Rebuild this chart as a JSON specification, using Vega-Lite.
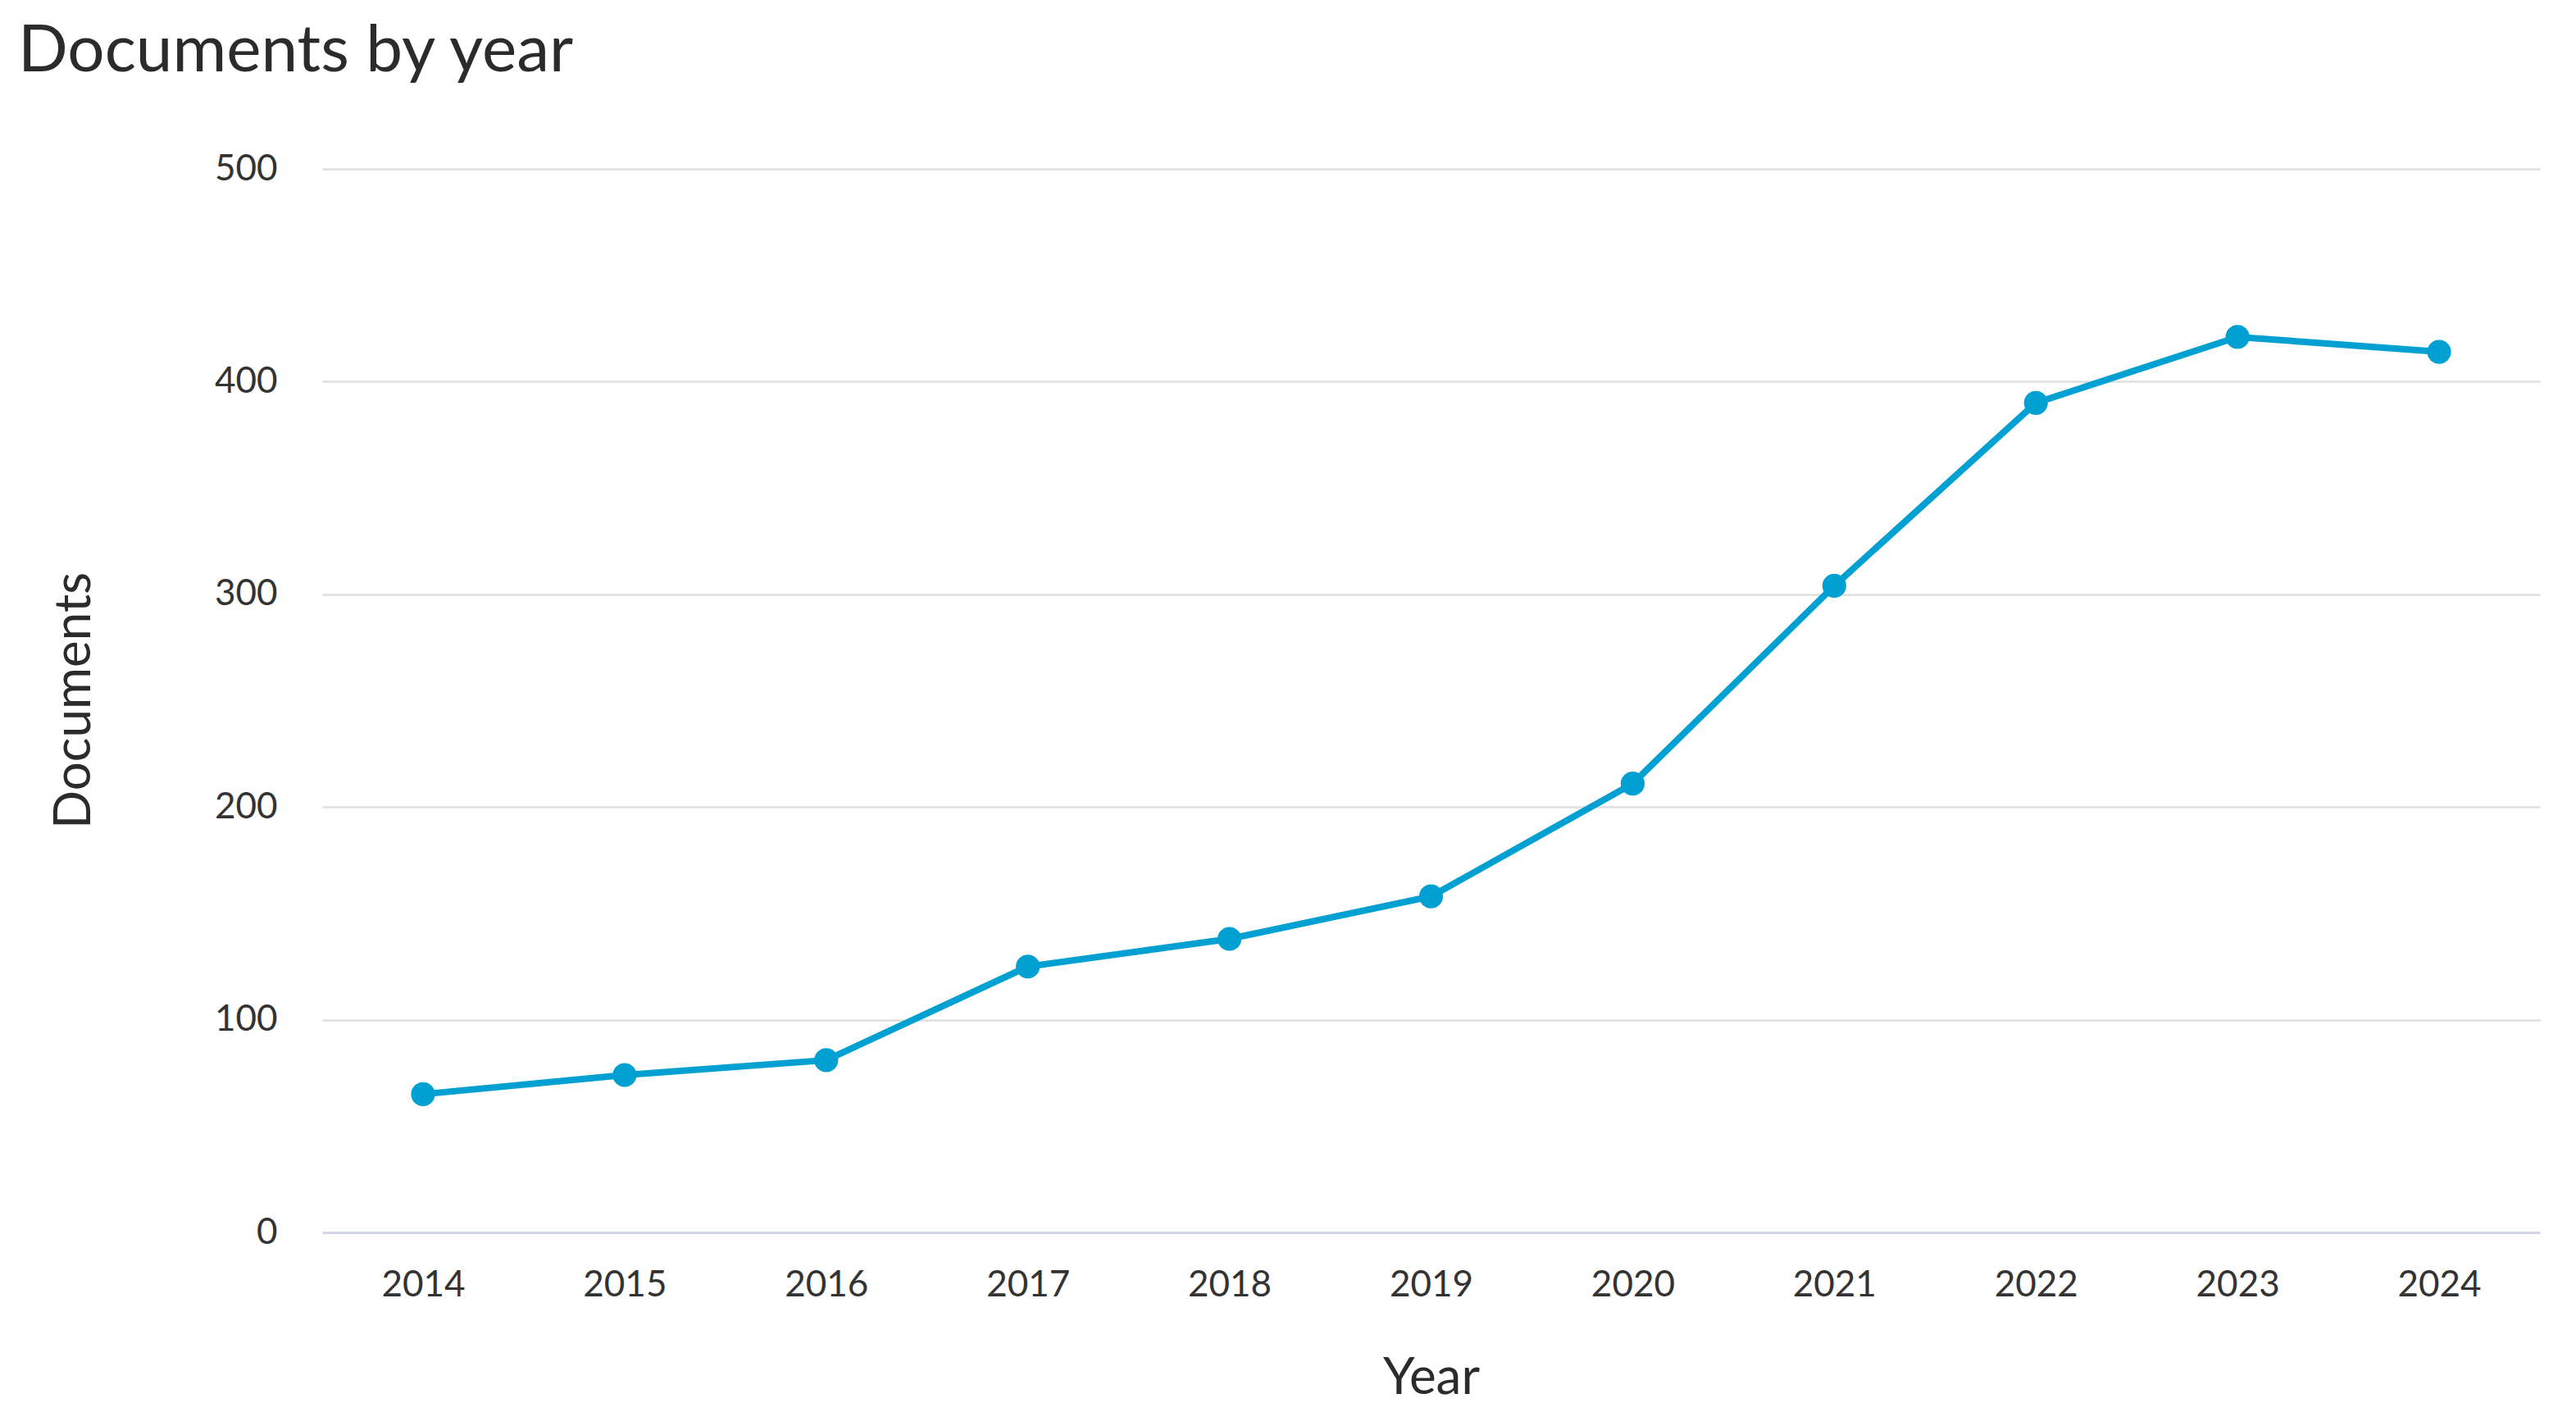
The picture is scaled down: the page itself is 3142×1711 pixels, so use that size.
{
  "$schema": "https://vega.github.io/schema/vega-lite/v6.json",
  "width": 2705,
  "height": 1297,
  "autosize": {"type": "none"},
  "padding": {"left": 393, "top": 206, "right": 44, "bottom": 208},
  "background": "#ffffff",
  "title": {
    "text": "Documents by year",
    "anchor": "start",
    "frame": "group",
    "font": "Lato",
    "fontSize": 80,
    "fontWeight": "normal",
    "color": "#2b2b2b",
    "dx": -371,
    "offset": 80
  },
  "config": {
    "view": {"stroke": null},
    "font": "Lato"
  },
  "data": {
    "values": [
      {"Year": "2014", "Documents": 65},
      {"Year": "2015", "Documents": 74},
      {"Year": "2016", "Documents": 81},
      {"Year": "2017", "Documents": 125},
      {"Year": "2018", "Documents": 138},
      {"Year": "2019", "Documents": 158},
      {"Year": "2020", "Documents": 211},
      {"Year": "2021", "Documents": 304},
      {"Year": "2022", "Documents": 390},
      {"Year": "2023", "Documents": 421},
      {"Year": "2024", "Documents": 414}
    ]
  },
  "encoding": {
    "x": {
      "field": "Year",
      "type": "ordinal",
      "scale": {"type": "point", "padding": 0.5},
      "axis": {
        "title": "Year",
        "titleFont": "Lato",
        "titleFontSize": 62,
        "titleFontWeight": "normal",
        "titleColor": "#2b2b2b",
        "titleBaseline": "alphabetic",
        "titleY": 196,
        "labelFont": "Lato",
        "labelFontSize": 44,
        "labelColor": "#333333",
        "labelAngle": 0,
        "labelPadding": 42,
        "ticks": false,
        "tickSize": 0,
        "grid": false,
        "domain": true,
        "domainColor": "#d3d7ea",
        "domainWidth": 3
      }
    },
    "y": {
      "field": "Documents",
      "type": "quantitative",
      "scale": {"domain": [0, 500], "nice": false},
      "axis": {
        "title": "Documents",
        "titleFont": "Lato",
        "titleFontSize": 62,
        "titleFontWeight": "normal",
        "titleColor": "#2b2b2b",
        "titleAngle": -90,
        "titleBaseline": "middle",
        "titleX": -303,
        "titleY": 648,
        "values": [0, 100, 200, 300, 400, 500],
        "labelFont": "Lato",
        "labelFontSize": 44,
        "labelColor": "#333333",
        "labelPadding": 55,
        "ticks": false,
        "tickSize": 0,
        "domain": false,
        "grid": true,
        "gridColor": "#dedede",
        "gridWidth": 2.5
      }
    }
  },
  "layer": [
    {
      "mark": {"type": "line", "color": "#00a0d2", "strokeWidth": 8}
    },
    {
      "mark": {"type": "point", "filled": true, "color": "#00a0d2", "size": 850, "opacity": 1}
    }
  ]
}
